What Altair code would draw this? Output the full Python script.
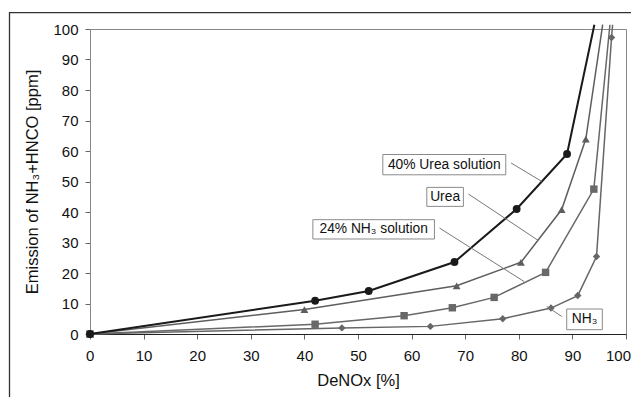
import altair as alt
import pandas as pd

# ---- data ----
series_names = ["40% Urea solution", "Urea", "24% NH₃ solution", "NH₃"]

urea40_x = [0, 42, 52, 68, 79.6, 89]
urea40_y = [0, 10.9, 14.1, 23.6, 41, 59]
urea_x = [0, 40, 68.4, 80.4, 88, 92.5]
urea_y = [0, 8, 15.8, 23.5, 40.8, 63.9]
nh3sol_x = [0, 42, 58.6, 67.6, 75.4, 85, 94]
nh3sol_y = [0, 3.2, 6, 8.6, 12, 20.2, 47.5]
nh3_x = [0, 47, 63.5, 77, 86, 91, 94.5, 97.3]
nh3_y = [0, 2, 2.5, 5, 8.5, 12.6, 25.4, 97.2]

# where each curve leaves the top of the plot
exit_x = [94.1, 95.65, 97.0, 97.5]
exit_y = [101.4, 101.4, 101.4, 101.4]

# label boxes (data units) and leader lines
box_text = ["40% Urea solution", "Urea", "24% NH₃ solution", "NH₃"]
box_x1 = [54.63, 62.84, 41.58, 88.94]
box_x2 = [77.57, 69.66, 64.26, 95.58]
box_y1 = [52.2, 41.84, 31.15, 1.41]
box_y2 = [58.85, 48.07, 37.48, 8.2]
lead_x1 = [78.56, 70.6, 65.2, 88.0]
lead_y1 = [56.07, 45.9, 34.75, 5.77]
lead_x2 = [84.28, 83.6, 81.0, 85.2]
lead_y2 = [50.03, 30.7, 17.2, 9.05]

x_ticks = list(range(0, 101, 10))
y_ticks = list(range(0, 101, 10))

colors = ["#1a1a1a", "#5e5e5e", "#686868", "#666666"]
shapes = ["circle", "triangle-up", "square", "diamond"]
sizes = [62, 62, 55, 55]
widths = [2.0, 1.5, 1.5, 1.5]

xs = [urea40_x, urea_x, nh3sol_x, nh3_x]
ys = [urea40_y, urea_y, nh3sol_y, nh3_y]

W, H = 536, 305
xscale = alt.Scale(domain=[0, 100], nice=False)
yscale = alt.Scale(domain=[0, 100], nice=False)

FONT = "Liberation Sans"

xaxis = alt.Axis(values=x_ticks, title="DeNOx [%]", grid=False,
                 tickSize=5, labelPadding=9, titlePadding=9,
                 labelFlush=True, labelFlushOffset=4.5, labelOverlap=False,
                 domainColor="#222222", tickColor="#666666")
yaxis = alt.Axis(values=y_ticks, title="Emission of NH₃+HNCO [ppm]", grid=False,
                 tickSize=5, labelPadding=7, titlePadding=12,
                 labelFlush=False, labelOverlap=False,
                 domainColor="#888888", tickColor="#666666")


def X(field):
    return alt.X(field, scale=xscale, axis=xaxis)


def Y(field):
    return alt.Y(field, scale=yscale, axis=yaxis)


frame = alt.Chart(pd.DataFrame({"a": [0]})).mark_rect(
    fill=None, stroke="#333333", strokeWidth=1.3
).encode(
    x=alt.value(-80.5), x2=alt.value(W + 100), y=alt.value(-16.3), y2=alt.value(H + 120)
)

layers = [frame]

for i in [3, 2, 1, 0]:
    lx = xs[i] + [exit_x[i]]
    ly = ys[i] + [exit_y[i]]
    df = pd.DataFrame({"x": lx, "y": ly, "o": list(range(len(lx)))})
    line = alt.Chart(df).mark_line(
        color=colors[i], strokeWidth=widths[i], clip=False
    ).encode(x=X("x:Q"), y=Y("y:Q"), order="o:Q")
    pdf = pd.DataFrame({"x": xs[i], "y": ys[i]})
    pts = alt.Chart(pdf).mark_point(
        shape=shapes[i], filled=True, color=colors[i], size=sizes[i], opacity=1
    ).encode(x=X("x:Q"), y=Y("y:Q"))
    layers += [line, pts]

lead_df = pd.DataFrame({"x": lead_x1, "y": lead_y1, "x2": lead_x2, "y2": lead_y2})
leaders = alt.Chart(lead_df).mark_rule(color="#777777", strokeWidth=1).encode(
    x=X("x:Q"), y=Y("y:Q"), x2="x2:Q", y2="y2:Q"
)

box_df = pd.DataFrame({
    "t": box_text, "x1": box_x1, "x2": box_x2, "y1": box_y1, "y2": box_y2,
    "xc": [(a + b) / 2 for a, b in zip(box_x1, box_x2)],
    "yc": [(a + b) / 2 for a, b in zip(box_y1, box_y2)],
})
boxes = alt.Chart(box_df).mark_rect(fill="white", stroke="#8a8a8a", strokeWidth=1).encode(
    x=X("x1:Q"), x2="x2:Q", y=Y("y1:Q"), y2="y2:Q"
)
texts = alt.Chart(box_df).mark_text(
    font=FONT, fontSize=13.8, color="#111111", align="center", baseline="middle"
).encode(x=X("xc:Q"), y=Y("yc:Q"), text="t:N")

chart = alt.layer(*layers, leaders, boxes, texts).properties(
    width=W, height=H,
    autosize=alt.AutoSizeParams(type="none"),
    padding={"left": 82, "top": 21, "right": 5, "bottom": 63},
).configure_view(
    stroke="#888888", strokeWidth=1
).configure_axis(
    labelFont=FONT, titleFont=FONT, labelFontSize=15, titleFontSize=16.5,
    labelColor="#111111", titleColor="#111111", titleFontWeight="normal"
)

chart.save("out.html", embed_options={"renderer": "svg", "actions": False})
